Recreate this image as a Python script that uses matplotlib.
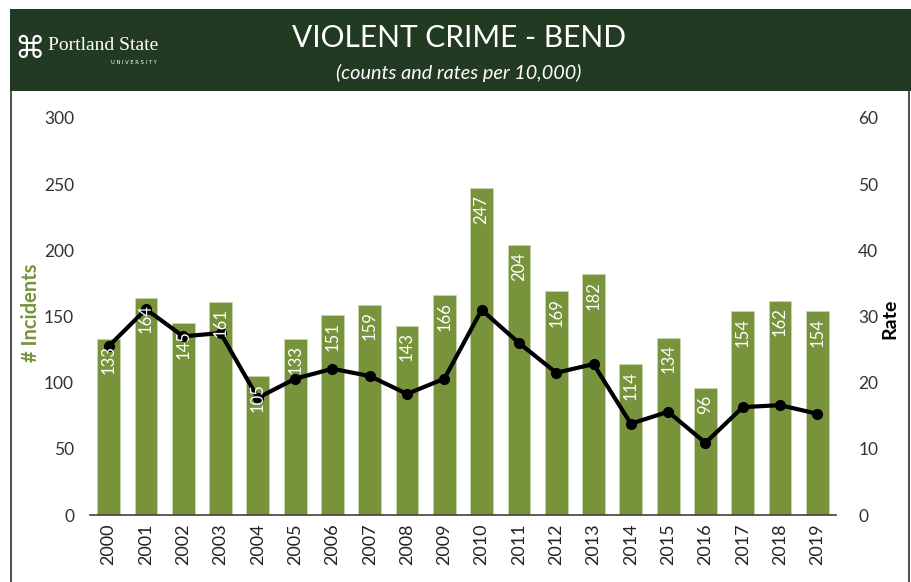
import matplotlib
matplotlib.use('Agg')
import matplotlib.pyplot as plt
from matplotlib.patches import Rectangle
from matplotlib.lines import Line2D
import numpy as np

years = [str(y) for y in range(2000, 2020)]
incidents = [133, 164, 145, 161, 105, 133, 151, 159, 143, 166,
             247, 204, 169, 182, 114, 134, 96, 154, 162, 154]
rates = [25.5, 31.1, 27.0, 27.5, 17.7, 20.6, 22.1, 21.0, 18.3, 20.6,
         31.0, 26.0, 21.5, 22.8, 13.8, 15.6, 10.9, 16.3, 16.6, 15.3]

W, H = 911, 582
header = '#233a22'
bar_col = '#77933c'
font = 'Lato'

fig = plt.figure(figsize=(W/100, H/100), dpi=100)
fig.patch.set_facecolor('white')

def fx(px): return px/W
def fy(py): return 1 - py/H

# header band and frame lines
fig.patches.append(Rectangle((fx(10), fy(91)), 1-fx(10), fy(9)-fy(91), transform=fig.transFigure,
                             facecolor=header, edgecolor='none', zorder=0))
fig.lines.append(Line2D([fx(10.5), fx(10.5)], [0, fy(91)], transform=fig.transFigure, color=header, lw=1.2))
fig.lines.append(Line2D([fx(908.5), fx(908.5)], [0, fy(91)], transform=fig.transFigure, color=header, lw=1.2))

fig.text(fx(459), fy(38), 'VIOLENT CRIME - BEND', color='white', fontsize=21.5, family=font,
         ha='center', va='center')
fig.text(fx(459), fy(73), '(counts and rates per 10,000)', color='white', fontsize=14.3, family=font,
         style='italic', ha='center', va='center')

# logo
fig.text(fx(30), fy(49), '\u2318', color='white', fontsize=22, family='DejaVu Sans', ha='center', va='center')
fig.text(fx(48), fy(46), 'Portland State', color='white', fontsize=14, family='Liberation Serif',
         ha='left', va='center')
fig.text(fx(157), fy(63), 'U N I V E R S I T Y', color='white', fontsize=3.8, family='DejaVu Sans',
         ha='right', va='center')

# axis titles placed by pixel
fig.text(fx(31), fy(313), '# Incidents', rotation=90, fontsize=14.5, fontweight='bold', color=bar_col,
         family=font, ha='center', va='center')
fig.text(fx(890), fy(319), 'Rate', rotation=90, fontsize=14, fontweight='bold', color='black',
         family=font, ha='center', va='center')

ax = fig.add_axes([fx(90), fy(515), fx(836)-fx(90), fy(118)-fy(515)])
x = np.arange(len(years))
ax.bar(x, incidents, width=0.61, color=bar_col, edgecolor='#c9d6ad', linewidth=0.6, zorder=1)

ax.set_xlim(-0.5, len(years) - 0.5)
ax.set_ylim(0, 300)
ax.set_yticks(np.arange(0, 301, 50))
ax.set_xticks(x)
ax.set_xticklabels(years, rotation=90, fontsize=13, family=font, color='#222222')
for s in ['top', 'left', 'right']:
    ax.spines[s].set_visible(False)
ax.spines['bottom'].set_color('#404040')
ax.spines['bottom'].set_linewidth(1.2)
ax.tick_params(axis='y', length=0, labelsize=12.5, pad=11.5, labelcolor='#333333')
ax.tick_params(axis='x', length=0, pad=6)
for lab in ax.get_yticklabels():
    lab.set_family(font)

ax2 = ax.twinx()
ax2.plot(x, rates, color='black', lw=3, marker='o', markersize=7, zorder=3)
ax2.set_ylim(0, 60)
ax2.set_yticks(np.arange(0, 61, 10))
for s in ['top', 'left', 'right', 'bottom']:
    ax2.spines[s].set_visible(False)
ax2.tick_params(axis='y', length=0, labelsize=12.5, pad=16, labelcolor='#333333')
for lab in ax2.get_yticklabels():
    lab.set_family(font)

# bar value labels on top of the line
for xi, v in zip(x, incidents):
    ax2.text(xi, v - 5, str(v), transform=ax.transData, rotation=90, ha='center', va='top',
             color='white', fontsize=12, family=font, zorder=5)

fig.savefig('out.png', dpi=100)
